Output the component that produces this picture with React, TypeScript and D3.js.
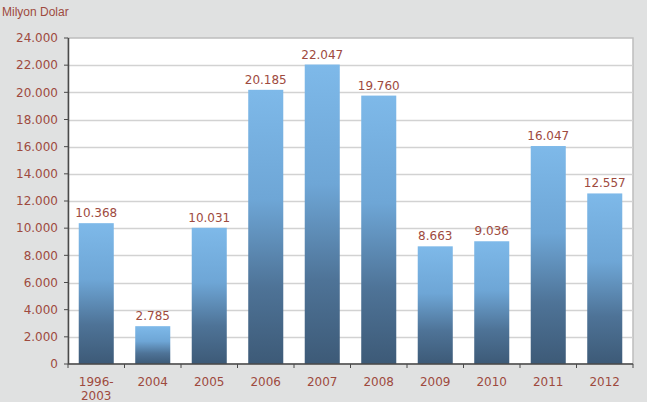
import { useEffect, useRef } from 'react'
import * as d3 from 'd3'

const categories = ['1996-2003', '2004', '2005', '2006', '2007', '2008', '2009', '2010', '2011', '2012']
const values = [10368, 2785, 10031, 20185, 22047, 19760, 8663, 9036, 16047, 12557]
const yTicks = [0, 2000, 4000, 6000, 8000, 10000, 12000, 14000, 16000, 18000, 20000, 22000, 24000]

const W = 647
const H = 402
const textColor = '#9e4a3e'
const fmt = (v: number) => d3.format(',')(v).replace(/,/g, '.')

export default function App() {
  const svgRef = useRef<SVGSVGElement>(null)

  useEffect(() => {
    if (!svgRef.current) return
    const svg = d3.select(svgRef.current)
    svg.selectAll('*').remove()

    const margin = { top: 38, right: 14, bottom: 38, left: 68 }
    const w = W - margin.left - margin.right
    const h = H - margin.top - margin.bottom

    const x = d3.scaleBand().domain(categories).range([0, w]).paddingInner(0.38).paddingOuter(0.19)
    const y = d3.scaleLinear().domain([0, 24000]).range([h, 0])

    svg.append('rect').attr('width', W).attr('height', H).attr('fill', '#e0e1e1')

    const defs = svg.append('defs')
    const grad = defs.append('linearGradient').attr('id', 'barGrad')
      .attr('x1', '0%').attr('y1', '0%').attr('x2', '0%').attr('y2', '100%')
    grad.append('stop').attr('offset', '0%').attr('stop-color', '#7eb9e9')
    grad.append('stop').attr('offset', '40%').attr('stop-color', '#6ea6d6')
    grad.append('stop').attr('offset', '72%').attr('stop-color', '#4e7397')
    grad.append('stop').attr('offset', '100%').attr('stop-color', '#3d5a77')

    const g = svg.append('g').attr('transform', `translate(${margin.left},${margin.top})`)

    // plot background + border
    g.append('rect').attr('width', w).attr('height', h).attr('fill', '#ffffff')
      .attr('stroke', '#bdbdbd').attr('stroke-width', 1.5)

    // grid
    g.append('g').selectAll('line').data(yTicks.filter(d => d > 0 && d < 24000)).enter().append('line')
      .attr('x1', 0).attr('x2', w)
      .attr('y1', d => Math.round(y(d)) + 0.5).attr('y2', d => Math.round(y(d)) + 0.5)
      .attr('stroke', '#d2d2d2').attr('stroke-width', 1.5)

    // bars
    g.selectAll('rect.bar').data(values).enter().append('rect')
      .attr('class', 'bar')
      .attr('x', (_, i) => x(categories[i])!)
      .attr('y', d => y(d))
      .attr('width', x.bandwidth())
      .attr('height', d => h - y(d))
      .attr('fill', 'url(#barGrad)')

    // value labels
    g.selectAll('text.val').data(values).enter().append('text')
      .attr('class', 'val')
      .attr('x', (_, i) => x(categories[i])! + x.bandwidth() / 2)
      .attr('y', d => y(d) - 6)
      .attr('text-anchor', 'middle')
      .attr('font-family', 'DejaVu Sans')
      .attr('font-size', 12)
      .attr('fill', textColor)
      .text(d => fmt(d))

    // y axis
    const ya = g.append('g')
    ya.append('line').attr('x1', 0.5).attr('x2', 0.5).attr('y1', 0).attr('y2', h).attr('stroke', '#4a4a4a').attr('stroke-width', 1.5)
    ya.selectAll('line.t').data(yTicks).enter().append('line')
      .attr('class', 't')
      .attr('x1', -4).attr('x2', 0)
      .attr('y1', d => y(d)).attr('y2', d => y(d))
      .attr('stroke', '#4a4a4a')
    ya.selectAll('text').data(yTicks).enter().append('text')
      .attr('x', -10).attr('y', d => y(d)).attr('dy', '0.35em')
      .attr('text-anchor', 'end')
      .attr('font-family', 'DejaVu Sans').attr('font-size', 12)
      .attr('fill', textColor)
      .text(d => fmt(d))

    // x axis, ticks between categories
    const xa = g.append('g').attr('transform', `translate(0,${h})`)
    xa.append('line').attr('x1', 0).attr('x2', w).attr('y1', 0).attr('y2', 0).attr('stroke', '#4a4a4a').attr('stroke-width', 1.5)
    const bounds = d3.range(categories.length + 1).map(i => i * (w / categories.length))
    xa.selectAll('line.t').data(bounds).enter().append('line')
      .attr('class', 't')
      .attr('x1', d => d).attr('x2', d => d).attr('y1', 0).attr('y2', 4)
      .attr('stroke', '#4a4a4a')
    const labels = xa.selectAll('text').data(categories).enter().append('text')
      .attr('x', d => x(d)! + x.bandwidth() / 2)
      .attr('y', 22)
      .attr('text-anchor', 'middle')
      .attr('font-family', 'DejaVu Sans').attr('font-size', 12)
      .attr('fill', textColor)
    labels.each(function (d) {
      const parts = d.includes('-') ? [d.split('-')[0] + '-', d.split('-')[1]] : [d]
      const t = d3.select(this)
      parts.forEach((p, i) => {
        t.append('tspan').attr('x', x(d)! + x.bandwidth() / 2).attr('dy', i === 0 ? 0 : 14).text(p)
      })
    })

    // unit label
    svg.append('text').attr('x', 2).attr('y', 16)
      .attr('font-family', 'Liberation Sans, Arial').attr('font-size', 12)
      .attr('fill', textColor)
      .text('Milyon Dolar')
  }, [])

  return (
    <svg ref={svgRef} width={W} height={H} style={{ position: 'absolute', left: 0, top: 0, display: 'block' }} />
  )
}
